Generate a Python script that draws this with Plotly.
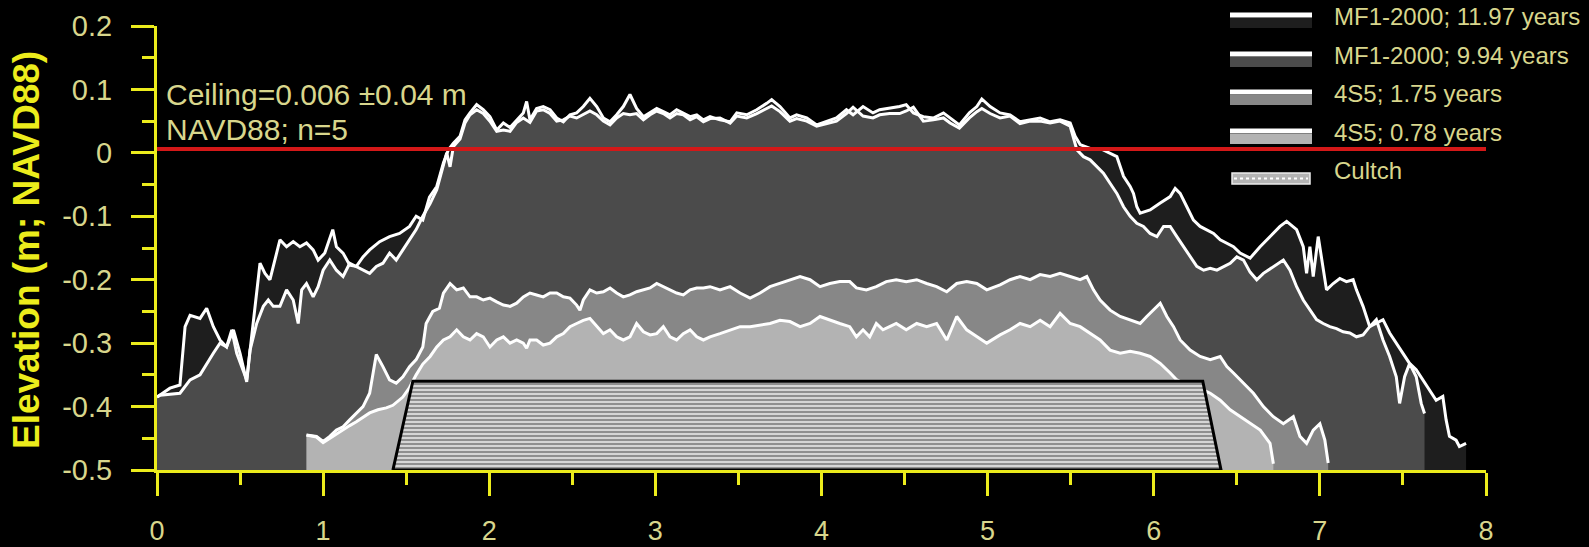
import plotly.graph_objects as go

# ---------------------------------------------------------------------------
# Reef elevation profiles: distance along transect (m) vs elevation (m NAVD88)
# ---------------------------------------------------------------------------

# MF1-2000 surveyed after 11.97 years
x_1197 = [
    0.0, 0.018, 0.078, 0.138, 0.169, 0.199, 0.259, 0.299, 0.339, 0.379,
    0.419, 0.45, 0.48, 0.54, 0.62, 0.65, 0.68, 0.74, 0.78, 0.82,
    0.86, 0.90, 0.94, 0.97, 1.01, 1.058, 1.08, 1.12, 1.16, 1.20,
    1.24, 1.28, 1.34, 1.40, 1.46, 1.52, 1.56, 1.60, 1.64, 1.684,
    1.724, 1.754, 1.784, 1.824, 1.854, 1.884, 1.924, 1.964, 2.004, 2.045,
    2.085, 2.125, 2.165, 2.205, 2.225, 2.245, 2.285, 2.325, 2.366, 2.406,
    2.446, 2.486, 2.526, 2.566, 2.606, 2.647, 2.687, 2.727, 2.767, 2.807,
    2.847, 2.887, 2.928, 2.968, 3.008, 3.048, 3.088, 3.128, 3.168, 3.209,
    3.249, 3.289, 3.329, 3.389, 3.45, 3.49, 3.55, 3.61, 3.67, 3.70,
    3.75, 3.81, 3.85, 3.911, 3.971, 4.03, 4.09, 4.15, 4.19, 4.25,
    4.31, 4.35, 4.41, 4.47, 4.51, 4.553, 4.613, 4.673, 4.734, 4.774,
    4.83, 4.89, 4.935, 4.965, 5.015, 5.075, 5.135, 5.195, 5.256, 5.316,
    5.376, 5.436, 5.497, 5.527, 5.557, 5.617, 5.677, 5.737, 5.778, 5.818,
    5.858, 5.878, 5.898, 5.918, 5.978, 6.039, 6.099, 6.129, 6.159, 6.199,
    6.239, 6.279, 6.32, 6.36, 6.40, 6.44, 6.48, 6.52, 6.58, 6.64,
    6.70, 6.76, 6.80, 6.86, 6.90, 6.92, 6.94, 6.96, 6.99, 7.01,
    7.04, 7.08, 7.12, 7.16, 7.20, 7.22, 7.26, 7.30, 7.34, 7.38,
    7.42, 7.46, 7.50, 7.54, 7.58, 7.62, 7.66, 7.70, 7.74, 7.76,
    7.78, 7.82, 7.84, 7.88,
]
y_1197 = [
    -0.385, -0.382, -0.371, -0.366, -0.274, -0.256, -0.261, -0.245, -0.274, -0.295,
    -0.306, -0.279, -0.316, -0.358, -0.174, -0.190, -0.200, -0.137, -0.148, -0.140,
    -0.148, -0.142, -0.153, -0.169, -0.158, -0.121, -0.148, -0.158, -0.177, -0.179,
    -0.164, -0.153, -0.140, -0.132, -0.127, -0.116, -0.100, -0.106, -0.070, -0.053,
    -0.016, 0.005, 0.015, 0.026, 0.052, 0.063, 0.076, 0.068, 0.057, 0.036,
    0.047, 0.040, 0.052, 0.063, 0.081, 0.052, 0.070, 0.073, 0.068, 0.055,
    0.049, 0.060, 0.063, 0.073, 0.086, 0.073, 0.055, 0.049, 0.060, 0.073,
    0.092, 0.070, 0.057, 0.063, 0.070, 0.065, 0.060, 0.068, 0.063, 0.057,
    0.060, 0.052, 0.057, 0.052, 0.049, 0.063, 0.060, 0.068, 0.078, 0.084,
    0.073, 0.055, 0.060, 0.055, 0.044, 0.049, 0.055, 0.068, 0.060, 0.073,
    0.063, 0.068, 0.070, 0.073, 0.076, 0.063, 0.057, 0.055, 0.063, 0.055,
    0.044, 0.063, 0.073, 0.085, 0.073, 0.063, 0.060, 0.049, 0.052, 0.055,
    0.049, 0.052, 0.047, 0.026, 0.013, 0.007, 0.007, 0.000, -0.006, -0.037,
    -0.053, -0.064, -0.085, -0.095, -0.090, -0.079, -0.069, -0.056, -0.064, -0.085,
    -0.106, -0.116, -0.121, -0.127, -0.137, -0.142, -0.148, -0.158, -0.166, -0.148,
    -0.132, -0.116, -0.108, -0.121, -0.148, -0.190, -0.148, -0.195, -0.132, -0.169,
    -0.216, -0.206, -0.198, -0.203, -0.200, -0.216, -0.242, -0.274, -0.269, -0.263,
    -0.284, -0.300, -0.316, -0.332, -0.342, -0.358, -0.374, -0.390, -0.384, -0.421,
    -0.447, -0.453, -0.463, -0.458,
]

# MF1-2000 surveyed after 9.94 years
x_994 = [
    0.0, 0.018, 0.138, 0.199, 0.259, 0.299, 0.339, 0.379, 0.419, 0.46,
    0.50, 0.54, 0.56, 0.60, 0.64, 0.67, 0.70, 0.74, 0.78, 0.82,
    0.85, 0.871, 0.90, 0.94, 0.97, 1.0, 1.04, 1.08, 1.12, 1.16,
    1.20, 1.24, 1.28, 1.32, 1.36, 1.40, 1.44, 1.48, 1.52, 1.56,
    1.60, 1.644, 1.684, 1.724, 1.744, 1.764, 1.784, 1.824, 1.854, 1.884,
    1.924, 1.964, 2.004, 2.045, 2.085, 2.125, 2.165, 2.205, 2.245, 2.285,
    2.325, 2.366, 2.406, 2.446, 2.486, 2.526, 2.566, 2.606, 2.647, 2.687,
    2.727, 2.767, 2.807, 2.847, 2.887, 2.928, 2.968, 3.008, 3.048, 3.088,
    3.128, 3.168, 3.209, 3.249, 3.289, 3.329, 3.389, 3.45, 3.49, 3.55,
    3.61, 3.67, 3.70, 3.75, 3.81, 3.85, 3.911, 3.971, 4.03, 4.09,
    4.15, 4.19, 4.25, 4.31, 4.35, 4.41, 4.47, 4.51, 4.553, 4.613,
    4.673, 4.734, 4.774, 4.83, 4.89, 4.935, 4.965, 5.015, 5.075, 5.135,
    5.195, 5.256, 5.316, 5.376, 5.436, 5.497, 5.537, 5.577, 5.617, 5.657,
    5.697, 5.737, 5.778, 5.818, 5.858, 5.898, 5.938, 5.978, 6.019, 6.059,
    6.099, 6.139, 6.179, 6.219, 6.259, 6.30, 6.34, 6.38, 6.42, 6.46,
    6.50, 6.54, 6.58, 6.62, 6.66, 6.72, 6.78, 6.82, 6.86, 6.90,
    6.94, 6.98, 7.02, 7.06, 7.10, 7.14, 7.18, 7.22, 7.26, 7.30,
    7.34, 7.38, 7.42, 7.46, 7.48, 7.51, 7.54, 7.58, 7.61, 7.63,
]
y_994 = [
    -0.385, -0.382, -0.379, -0.358, -0.350, -0.332, -0.316, -0.300, -0.306, -0.279,
    -0.316, -0.361, -0.311, -0.269, -0.242, -0.232, -0.242, -0.242, -0.216, -0.232,
    -0.269, -0.216, -0.206, -0.227, -0.211, -0.185, -0.169, -0.185, -0.195, -0.174,
    -0.179, -0.185, -0.190, -0.179, -0.174, -0.158, -0.169, -0.153, -0.137, -0.121,
    -0.100, -0.080, -0.058, -0.022, 0.000, -0.022, 0.010, 0.022, 0.047, 0.060,
    0.068, 0.062, 0.050, 0.034, 0.036, 0.034, 0.048, 0.055, 0.048, 0.066,
    0.068, 0.062, 0.050, 0.052, 0.058, 0.055, 0.060, 0.066, 0.060, 0.050,
    0.044, 0.055, 0.062, 0.060, 0.062, 0.052, 0.060, 0.066, 0.062, 0.055,
    0.062, 0.060, 0.052, 0.057, 0.049, 0.054, 0.055, 0.047, 0.058, 0.055,
    0.062, 0.070, 0.074, 0.065, 0.050, 0.054, 0.050, 0.042, 0.046, 0.050,
    0.062, 0.072, 0.058, 0.055, 0.060, 0.062, 0.062, 0.066, 0.072, 0.050,
    0.052, 0.055, 0.047, 0.039, 0.055, 0.065, 0.070, 0.062, 0.055, 0.058,
    0.046, 0.050, 0.050, 0.047, 0.050, 0.042, 0.005, -0.006, -0.011, -0.022,
    -0.032, -0.048, -0.064, -0.085, -0.100, -0.111, -0.116, -0.127, -0.132, -0.116,
    -0.116, -0.132, -0.148, -0.164, -0.179, -0.185, -0.182, -0.185, -0.179, -0.174,
    -0.164, -0.169, -0.188, -0.200, -0.190, -0.179, -0.169, -0.185, -0.211, -0.232,
    -0.248, -0.263, -0.269, -0.274, -0.277, -0.282, -0.284, -0.290, -0.287, -0.274,
    -0.263, -0.295, -0.321, -0.353, -0.395, -0.353, -0.332, -0.353, -0.395, -0.411,
]

# 4S5 surveyed after 1.75 years
x_175 = [
    0.90, 0.96, 1.00, 1.04, 1.08, 1.12, 1.16, 1.20, 1.24, 1.28,
    1.30, 1.32, 1.36, 1.40, 1.44, 1.48, 1.52, 1.56, 1.60, 1.62,
    1.66, 1.70, 1.724, 1.764, 1.804, 1.844, 1.884, 1.924, 1.964, 2.004,
    2.045, 2.085, 2.125, 2.165, 2.205, 2.245, 2.285, 2.325, 2.366, 2.406,
    2.446, 2.486, 2.526, 2.546, 2.566, 2.606, 2.647, 2.687, 2.727, 2.767,
    2.807, 2.847, 2.887, 2.928, 2.968, 3.008, 3.048, 3.088, 3.128, 3.168,
    3.209, 3.249, 3.289, 3.329, 3.389, 3.45, 3.51, 3.57, 3.63, 3.69,
    3.75, 3.81, 3.871, 3.931, 3.991, 4.05, 4.11, 4.17, 4.21, 4.27,
    4.33, 4.39, 4.45, 4.51, 4.573, 4.633, 4.693, 4.754, 4.814, 4.874,
    4.935, 4.995, 5.075, 5.135, 5.195, 5.256, 5.316, 5.376, 5.436, 5.497,
    5.557, 5.597, 5.637, 5.677, 5.737, 5.798, 5.858, 5.918, 5.958, 5.998,
    6.039, 6.079, 6.119, 6.159, 6.219, 6.279, 6.34, 6.40, 6.44, 6.48,
    6.52, 6.60, 6.66, 6.72, 6.78, 6.84, 6.88, 6.92, 6.96, 7.00,
    7.03, 7.05,
]
y_175 = [
    -0.445, -0.447, -0.455, -0.447, -0.437, -0.432, -0.421, -0.411, -0.400, -0.379,
    -0.348, -0.318, -0.337, -0.358, -0.363, -0.353, -0.337, -0.326, -0.306, -0.269,
    -0.250, -0.245, -0.221, -0.206, -0.216, -0.213, -0.227, -0.227, -0.232, -0.229,
    -0.235, -0.240, -0.242, -0.237, -0.227, -0.221, -0.224, -0.227, -0.221, -0.221,
    -0.227, -0.229, -0.240, -0.248, -0.232, -0.216, -0.221, -0.219, -0.213, -0.221,
    -0.227, -0.224, -0.219, -0.216, -0.213, -0.206, -0.211, -0.216, -0.221, -0.224,
    -0.216, -0.213, -0.213, -0.211, -0.216, -0.211, -0.221, -0.229, -0.221, -0.211,
    -0.206, -0.200, -0.195, -0.200, -0.211, -0.206, -0.203, -0.203, -0.213, -0.216,
    -0.211, -0.203, -0.200, -0.203, -0.200, -0.206, -0.211, -0.219, -0.206, -0.203,
    -0.206, -0.216, -0.208, -0.200, -0.195, -0.200, -0.192, -0.195, -0.190, -0.195,
    -0.200, -0.195, -0.216, -0.232, -0.248, -0.258, -0.264, -0.269, -0.258, -0.248,
    -0.237, -0.258, -0.274, -0.295, -0.311, -0.321, -0.326, -0.321, -0.337, -0.347,
    -0.358, -0.379, -0.400, -0.416, -0.427, -0.416, -0.447, -0.458, -0.437, -0.427,
    -0.453, -0.489,
]

# 4S5 surveyed after 0.78 years
x_078 = [
    0.90, 0.96, 1.00, 1.04, 1.08, 1.12, 1.16, 1.20, 1.24, 1.28,
    1.33, 1.38, 1.42, 1.48, 1.52, 1.56, 1.60, 1.644, 1.684, 1.724,
    1.764, 1.804, 1.844, 1.884, 1.924, 1.964, 2.004, 2.045, 2.085, 2.125,
    2.165, 2.205, 2.225, 2.245, 2.285, 2.325, 2.366, 2.406, 2.446, 2.486,
    2.526, 2.566, 2.606, 2.647, 2.687, 2.727, 2.767, 2.807, 2.847, 2.887,
    2.928, 2.968, 3.008, 3.048, 3.088, 3.128, 3.168, 3.209, 3.249, 3.289,
    3.329, 3.389, 3.45, 3.51, 3.57, 3.63, 3.69, 3.75, 3.81, 3.871,
    3.931, 3.991, 4.05, 4.11, 4.17, 4.21, 4.25, 4.29, 4.33, 4.37,
    4.41, 4.45, 4.51, 4.573, 4.633, 4.693, 4.754, 4.814, 4.874, 4.935,
    4.995, 5.075, 5.135, 5.195, 5.256, 5.316, 5.376, 5.436, 5.497, 5.557,
    5.617, 5.677, 5.737, 5.798, 5.858, 5.918, 5.978, 6.039, 6.099, 6.139,
    6.219, 6.30, 6.34, 6.40, 6.46, 6.52, 6.581, 6.641, 6.70, 6.72,
]
y_078 = [
    -0.445, -0.448, -0.457, -0.450, -0.443, -0.437, -0.430, -0.424, -0.417, -0.410,
    -0.405, -0.402, -0.398, -0.385, -0.370, -0.350, -0.333, -0.321, -0.306, -0.295,
    -0.290, -0.279, -0.290, -0.295, -0.285, -0.290, -0.306, -0.295, -0.290, -0.300,
    -0.295, -0.300, -0.308, -0.295, -0.295, -0.303, -0.300, -0.290, -0.285, -0.274,
    -0.269, -0.264, -0.261, -0.274, -0.285, -0.279, -0.290, -0.295, -0.290, -0.269,
    -0.282, -0.287, -0.285, -0.274, -0.290, -0.295, -0.285, -0.279, -0.290, -0.295,
    -0.290, -0.285, -0.279, -0.274, -0.274, -0.271, -0.269, -0.264, -0.266, -0.274,
    -0.269, -0.258, -0.264, -0.269, -0.274, -0.290, -0.279, -0.290, -0.269, -0.279,
    -0.274, -0.269, -0.279, -0.269, -0.274, -0.269, -0.295, -0.258, -0.279, -0.290,
    -0.300, -0.287, -0.279, -0.269, -0.274, -0.264, -0.274, -0.253, -0.269, -0.274,
    -0.285, -0.295, -0.311, -0.316, -0.313, -0.316, -0.321, -0.332, -0.347, -0.358,
    -0.369, -0.374, -0.379, -0.390, -0.405, -0.416, -0.427, -0.437, -0.458, -0.490,
]

# Cultch footprint (trapezoid cross-section)
cultch_x = [1.42, 1.54, 6.295, 6.405]
cultch_y = [-0.50, -0.36, -0.36, -0.50]

# Reef ceiling estimate
CEILING = 0.006
CEILING_SD = 0.04
N_REEFS = 5

# Axes
X_MIN, X_MAX = 0, 8
Y_MIN, Y_MAX = -0.5, 0.2
x_tick_vals = [0, 1, 2, 3, 4, 5, 6, 7, 8]
y_tick_vals = [-0.5, -0.4, -0.3, -0.2, -0.1, 0, 0.1, 0.2]
y_tick_text = ["-0.5", "-0.4", "-0.3", "-0.2", "-0.1", "0", "0.1", "0.2"]

series_names = ["MF1-2000; 11.97 years", "MF1-2000; 9.94 years",
                "4S5; 1.75 years", "4S5; 0.78 years"]
series_x = [x_1197, x_994, x_175, x_078]
series_y = [y_1197, y_994, y_175, y_078]
series_fill = ["#1e1e1e", "#4b4b4b", "#878787", "#b3b3b3"]

for xs, ys in zip(series_x, series_y):
    assert len(xs) == len(ys)

# ---------------------------------------------------------------------------
# Styling
# ---------------------------------------------------------------------------
FONT = "Liberation Sans, Arial, Helvetica, sans-serif"
AXIS_YELLOW = "#ecec1c"
TEXT_KHAKI = "#d8d68c"
LINE_W = 3

FIG_W, FIG_H = 1589, 547
M_L, M_R, M_T, M_B = 157, 103, 26, 77
PLOT_W = FIG_W - M_L - M_R
PLOT_H = FIG_H - M_T - M_B


def paper_x(px):
    return (px - M_L) / PLOT_W


def paper_y(py):
    return (FIG_H - M_B - py) / PLOT_H


fig = go.Figure()

# Filled profiles, oldest survey at the back
for name, xs, ys, col in zip(series_names, series_x, series_y, series_fill):
    fig.add_trace(go.Scatter(
        x=xs + [xs[-1], xs[0]],
        y=ys + [Y_MIN, Y_MIN],
        fill="toself", fillcolor=col, mode="none",
        hoverinfo="skip", showlegend=False,
    ))

# Profile outlines
for name, xs, ys in zip(series_names, series_x, series_y):
    fig.add_trace(go.Scatter(
        x=xs, y=ys, mode="lines", name=name,
        line=dict(color="white", width=LINE_W),
        showlegend=False,
    ))

# Cultch
fig.add_trace(go.Scatter(
    x=cultch_x + [cultch_x[0]], y=cultch_y + [cultch_y[0]],
    mode="lines", fill="toself", name="Cultch",
    fillcolor="#cfcfcf",
    fillpattern=dict(shape="-", fgcolor="#262626", bgcolor="#d6d6d6",
                     size=4, solidity=0.4),
    line=dict(color="black", width=3),
    showlegend=False,
))

# Ceiling line
fig.add_trace(go.Scatter(
    x=[X_MIN, X_MAX], y=[CEILING, CEILING], mode="lines",
    line=dict(color="#d41818", width=4), showlegend=False,
))

# ---------------------------------------------------------------------------
# Hand-built legend (line over filled block)
# ---------------------------------------------------------------------------
shapes = []
annotations = []
legend_rows = [16, 55, 93, 132]
SW_X0, SW_X1 = 1230, 1312
TEXT_X = 1332
for row, name, col in zip(legend_rows, series_names, series_fill):
    shapes.append(dict(type="rect", xref="paper", yref="paper",
                       x0=paper_x(SW_X0), x1=paper_x(SW_X1),
                       y0=paper_y(row + 2), y1=paper_y(row + 12),
                       fillcolor=col, line=dict(width=0), layer="above"))
    shapes.append(dict(type="rect", xref="paper", yref="paper",
                       x0=paper_x(SW_X0), x1=paper_x(SW_X1),
                       y0=paper_y(row - 3.5), y1=paper_y(row + 1.5),
                       fillcolor="white", line=dict(width=0), layer="above"))
    annotations.append(dict(xref="paper", yref="paper", x=paper_x(TEXT_X), y=paper_y(row),
                            xanchor="left", yanchor="middle", showarrow=False,
                            text=name, font=dict(family=FONT, size=24, color=TEXT_KHAKI)))

cultch_row = 170
shapes.append(dict(type="rect", xref="paper", yref="paper",
                   x0=paper_x(1232), x1=paper_x(1310),
                   y0=paper_y(cultch_row + 3), y1=paper_y(cultch_row + 14),
                   fillcolor="#b4b4b4", line=dict(color="#ececec", width=1.5),
                   layer="above"))
shapes.append(dict(type="line", xref="paper", yref="paper",
                   x0=paper_x(1234), x1=paper_x(1308),
                   y0=paper_y(cultch_row + 8.5), y1=paper_y(cultch_row + 8.5),
                   line=dict(color="#ffffff", width=2, dash="dot"), layer="above"))
annotations.append(dict(xref="paper", yref="paper", x=paper_x(TEXT_X), y=paper_y(cultch_row),
                        xanchor="left", yanchor="middle", showarrow=False,
                        text="Cultch", font=dict(family=FONT, size=24, color=TEXT_KHAKI)))

# Ceiling note
annotations.append(dict(xref="paper", yref="paper", x=paper_x(164), y=paper_y(94),
                        xanchor="left", yanchor="middle", showarrow=False,
                        text=f"Ceiling={CEILING:g} \u00b1{CEILING_SD:g} m",
                        font=dict(family=FONT, size=30, color=TEXT_KHAKI)))
annotations.append(dict(xref="paper", yref="paper", x=paper_x(164), y=paper_y(129),
                        xanchor="left", yanchor="middle", showarrow=False,
                        text=f"NAVD88; n={N_REEFS}",
                        font=dict(family=FONT, size=30, color=TEXT_KHAKI)))

# Y-axis title
annotations.append(dict(xref="paper", yref="paper", x=paper_x(27), y=paper_y(250),
                        xanchor="center", yanchor="middle", showarrow=False,
                        textangle=-90, text="Elevation (m; NAVD88)",
                        font=dict(family=FONT, size=37, color=AXIS_YELLOW, weight="bold")))

axis_common = dict(
    showline=True, linecolor=AXIS_YELLOW, linewidth=3,
    ticks="outside", ticklen=23, tickwidth=3, tickcolor=AXIS_YELLOW,
    showgrid=False, zeroline=False, mirror=False,
)

fig.update_layout(
    width=FIG_W, height=FIG_H,
    margin=dict(l=M_L, r=M_R, t=M_T, b=M_B, autoexpand=False),
    paper_bgcolor="black", plot_bgcolor="black",
    showlegend=False,
    xaxis=dict(range=[X_MIN, X_MAX], tickvals=x_tick_vals,
               tickfont=dict(family=FONT, size=27, color=TEXT_KHAKI),
               ticklabelstandoff=12,
               minor=dict(ticks="outside", ticklen=12, tickwidth=3,
                          tickcolor=AXIS_YELLOW, dtick=0.5, tick0=0),
               **axis_common),
    yaxis=dict(range=[Y_MIN, Y_MAX], tickvals=y_tick_vals, ticktext=y_tick_text,
               tickfont=dict(family=FONT, size=29, color=TEXT_KHAKI),
               ticklabelstandoff=13,
               minor=dict(ticks="outside", ticklen=12, tickwidth=3,
                          tickcolor=AXIS_YELLOW, dtick=0.05, tick0=0),
               **axis_common),
    shapes=shapes,
    annotations=annotations,
)

fig.write_html("out.html")
